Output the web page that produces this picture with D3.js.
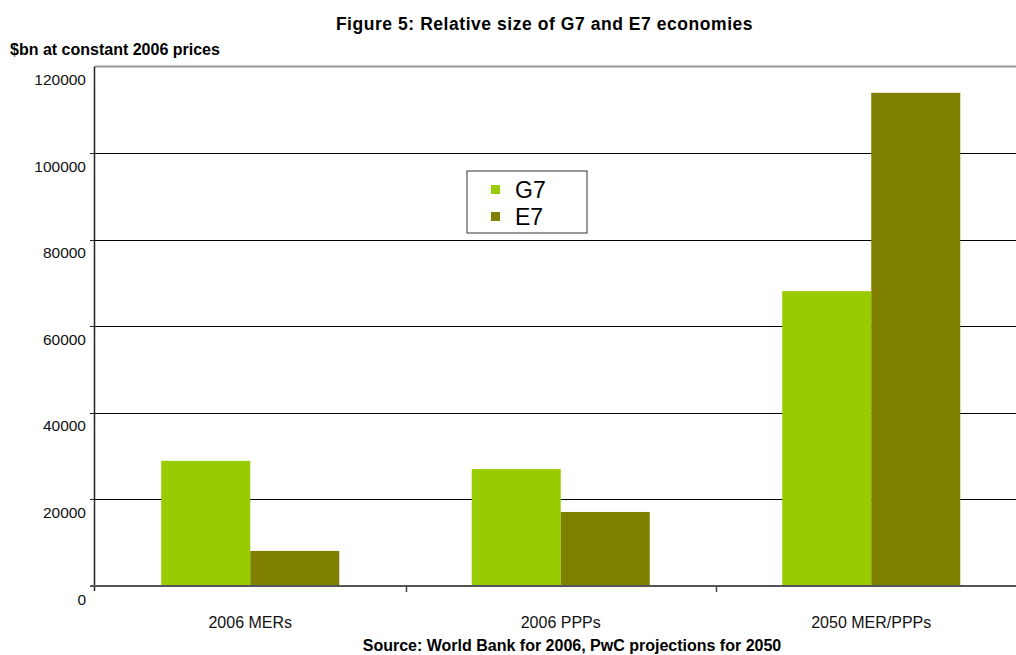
<!DOCTYPE html>
<html>
<head>
<meta charset="utf-8">
<script src="https://cdn.jsdelivr.net/npm/d3@7"></script>
<style>
  html, body { margin: 0; padding: 0; background: #fff; }
  svg { display: block; font-family: Arial, "Liberation Sans", Helvetica, sans-serif; }
</style>
</head>
<body>
<svg id="chart" width="1016" height="655"></svg>
<script>
// Economy size by measure, $bn at constant 2006 prices
const categories = ["2006 MERs", "2006 PPPs", "2050 MER/PPPs"];
const seriesNames = ["G7", "E7"];
const g7Values = [28900, 27000, 68100];
const e7Values = [8100, 17100, 113900];
const yTicks = [0, 20000, 40000, 60000, 80000, 100000, 120000];
const seriesColors = ["#99CC00", "#808000"];

const rows = categories.map((c, i) => ({ category: c, values: [g7Values[i], e7Values[i]] }));

const svg = d3.select("#chart");

const plot = { left: 95, right: 1026.5, top: 66.4, bottom: 586 };

const x0 = d3.scaleBand().domain(categories).range([plot.left, plot.right]).padding(0);
const x1 = d3.scaleBand().domain(seriesNames).range([0, x0.bandwidth()])
  .paddingInner(0).paddingOuter(0.744);
const y = d3.scaleLinear().domain([0, 120000]).range([plot.bottom, plot.top]);

// Horizontal gridlines
svg.append("g")
  .selectAll("line")
  .data(yTicks.filter(v => v > 0 && v < 120000))
  .join("line")
  .attr("x1", plot.left - 5).attr("x2", 1016)
  .attr("y1", d => Math.round(y(d)) + 0.5).attr("y2", d => Math.round(y(d)) + 0.5)
  .attr("stroke", "#000").attr("stroke-width", 1);

// Top border of the plot area
svg.append("line")
  .attr("x1", plot.left).attr("x2", 1016)
  .attr("y1", Math.round(y(120000)) + 0.5).attr("y2", Math.round(y(120000)) + 0.5)
  .attr("stroke", "#999").attr("stroke-width", 2);

// Bars
svg.append("g")
  .selectAll("g")
  .data(rows)
  .join("g")
  .attr("transform", d => `translate(${x0(d.category)},0)`)
  .selectAll("rect")
  .data(d => d.values.map((v, i) => ({ key: seriesNames[i], value: v, i })))
  .join("rect")
  .attr("x", d => x1(d.key))
  .attr("width", x1.bandwidth())
  .attr("y", d => y(d.value))
  .attr("height", d => y(0) - y(d.value))
  .attr("fill", d => seriesColors[d.i]);

// Y axis line and tick marks
svg.append("line")
  .attr("x1", plot.left - 0.5).attr("x2", plot.left - 0.5)
  .attr("y1", plot.top).attr("y2", plot.bottom + 5)
  .attr("stroke", "#222").attr("stroke-width", 1.5);

svg.append("g")
  .selectAll("line")
  .data(yTicks.filter(v => v < 120000))
  .join("line")
  .attr("x1", plot.left - 5).attr("x2", plot.left)
  .attr("y1", d => Math.round(y(d)) + 0.5).attr("y2", d => Math.round(y(d)) + 0.5)
  .attr("stroke", "#222");

// Y tick labels, set just below their gridlines
svg.append("g")
  .selectAll("text")
  .data(yTicks)
  .join("text")
  .attr("x", 86)
  .attr("y", d => y(d) + 18.5)
  .attr("text-anchor", "end")
  .attr("font-size", 15.5)
  .attr("fill", "#111")
  .text(d => d);

// Baseline (x axis)
svg.append("line")
  .attr("x1", plot.left - 5).attr("x2", 1016)
  .attr("y1", plot.bottom).attr("y2", plot.bottom)
  .attr("stroke", "#555").attr("stroke-width", 2);

// Category boundary ticks
svg.append("g")
  .selectAll("line")
  .data(categories.slice(1))
  .join("line")
  .attr("x1", d => Math.round(x0(d)) + 0.5).attr("x2", d => Math.round(x0(d)) + 0.5)
  .attr("y1", plot.bottom).attr("y2", plot.bottom + 6)
  .attr("stroke", "#444").attr("stroke-width", 1.5);

// Category labels
svg.append("g")
  .selectAll("text")
  .data(categories)
  .join("text")
  .attr("x", d => x0(d) + x0.bandwidth() / 2)
  .attr("y", 628)
  .attr("text-anchor", "middle")
  .attr("font-size", 16)
  .attr("fill", "#111")
  .text(d => d);

// Titles
svg.append("text")
  .attr("x", 544.5).attr("y", 30)
  .attr("text-anchor", "middle")
  .attr("font-size", 17.5).attr("font-weight", "bold")
  .attr("letter-spacing", 0.55)
  .text("Figure 5: Relative size of G7 and E7 economies");

svg.append("text")
  .attr("x", 10).attr("y", 55)
  .attr("font-size", 16).attr("font-weight", "bold")
  .text("$bn at constant 2006 prices");

svg.append("text")
  .attr("x", 572).attr("y", 651)
  .attr("text-anchor", "middle")
  .attr("font-size", 16).attr("font-weight", "bold")
  .text("Source: World Bank for 2006, PwC projections for 2050");

// Legend
const legend = svg.append("g").attr("transform", "translate(467,171)");
legend.append("rect")
  .attr("width", 120).attr("height", 62)
  .attr("fill", "#fff").attr("stroke", "#333").attr("stroke-width", 1);
const items = legend.selectAll("g.item")
  .data(seriesNames)
  .join("g")
  .attr("class", "item")
  .attr("transform", (d, i) => `translate(0,${i * 27})`);
items.append("rect")
  .attr("x", 24).attr("y", 14)
  .attr("width", 9).attr("height", 9)
  .attr("fill", (d, i) => seriesColors[i]);
items.append("text")
  .attr("x", 48).attr("y", 26.5)
  .attr("font-size", 23)
  .attr("fill", "#000")
  .text(d => d);
</script>
</body>
</html>
